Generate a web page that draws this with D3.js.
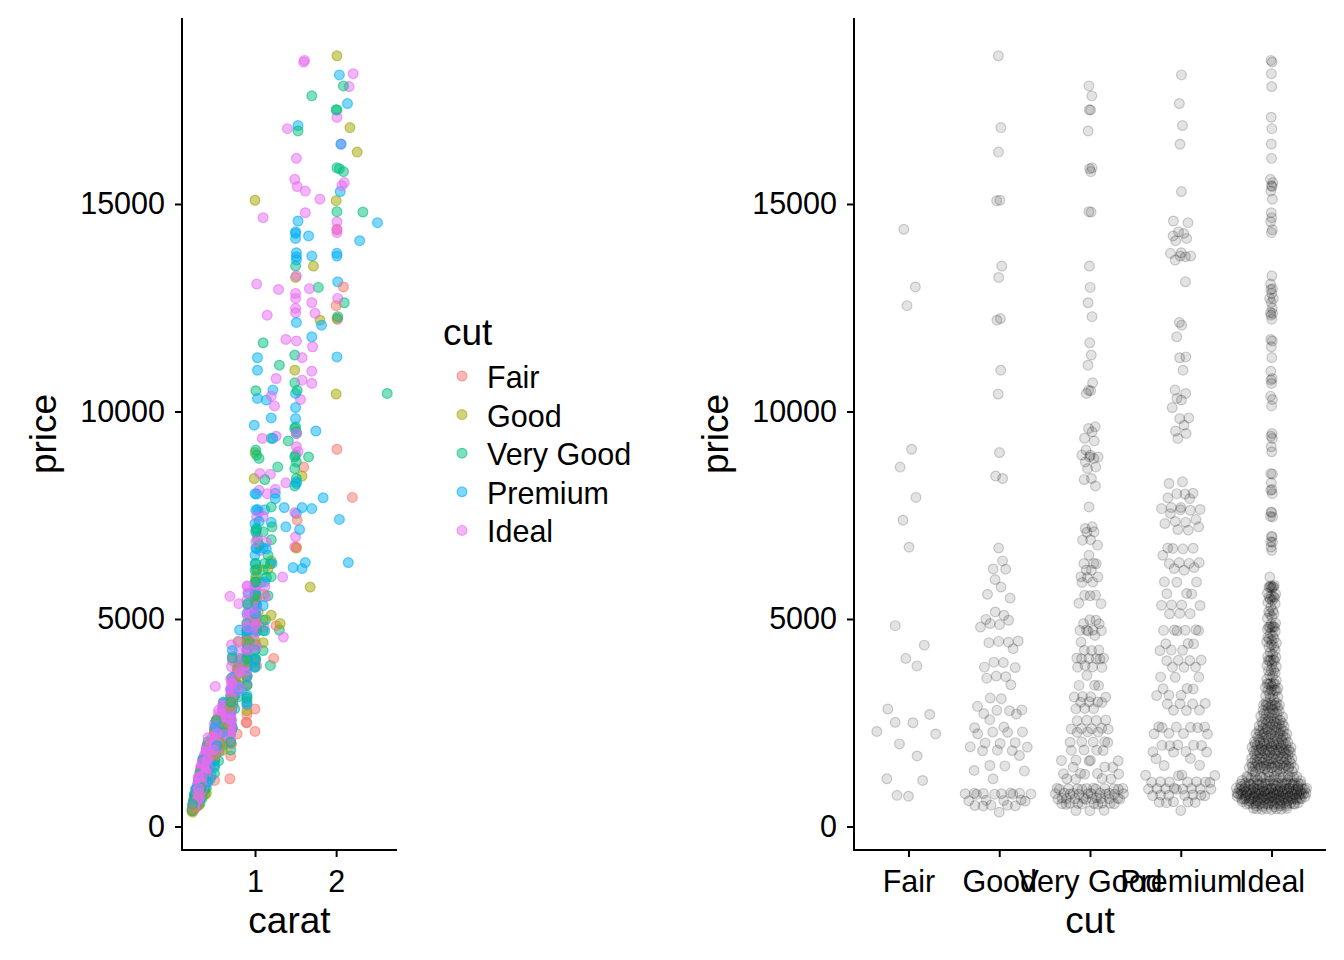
<!DOCTYPE html>
<html><head><meta charset="utf-8">
<script src="https://cdn.jsdelivr.net/npm/d3@7"></script>
<style>
html,body{margin:0;padding:0;background:#fff;}
svg{display:block;font-family:"Liberation Sans",Arial,Helvetica,sans-serif;}
</style></head>
<body>
<svg id="chart" width="1344" height="960"></svg>
<script>
// ---------------- DATA ----------------
const cuts = ["Fair", "Good", "Very Good", "Premium", "Ideal"];
const cutColors = ["#F8766D", "#A3A500", "#00BF7D", "#00B0F6", "#E76BF3"];
const priceTicks = [0, 5000, 10000, 15000];
const caratTicks = [1, 2];

// [carat, price]
const fairPts = [[2.01,14390],[2.09,13000],[2.0,12550],[2.01,9090],[1.6,8660],[2.2,7930],[1.52,7380],[1.51,6730],[1.26,4840],[1.01,4370],[1.23,4050],[1.02,3870],[1.0,2830],[0.9,2700],[0.89,2510],[0.9,2500],[1.0,2290],[0.78,2230],[0.71,1990],[0.7,1700],[0.69,1150],[0.5,1110],[0.33,750],[0.31,730]];

const goodPts = [[2.01,18570],[2.17,16840],[2.26,16250],[1.0,15090],[2.0,15080],[1.72,13505],[1.5,13230],[1.8,12200],[2.01,12240],[1.49,10995],[2.0,10420],[1.0,9010],[1.58,8445],[0.99,8385],[1.51,6710],[1.2,6400],[1.02,6205],[1.16,6200],[1.01,5950],[1.68,5770],[1.11,5595],[1.0,5505],[1.04,5170],[1.2,5090],[1.01,4990],[1.1,4970],[1.31,4890],[1.0,4865],[0.91,4806],[0.79,4460],[1.0,4470],[0.91,4440],[1.1,4430],[0.9,4285],[0.9,3960],[1.0,3950],[0.9,3840],[0.78,3830],[0.9,3625],[0.81,3610],[0.71,3575],[0.9,3415],[0.72,3095],[0.9,3080],[0.7,2895],[0.7,2800],[0.61,2810],[0.9,2790],[0.7,2720],[0.62,2710],[0.53,2575],[0.71,2395],[0.6,2380],[0.7,2275],[0.54,2270],[0.5,2280],[0.53,2235],[0.57,2010],[0.45,2020],[0.62,2000],[0.52,1915],[0.42,1920],[0.5,1830],[0.6,1840],[0.47,1825],[0.5,1710],[0.42,1470],[0.36,1460],[0.41,1350],[0.33,1340],[0.42,1150],[0.35,790],[0.28,800],[0.31,780],[0.4,795],[0.3,785],[0.34,790],[0.27,775],[0.3,800],[0.36,805],[0.33,780],[0.3,625],[0.31,630],[0.26,620],[0.3,610],[0.24,640],[0.3,505],[0.26,510],[0.27,500],[0.23,495],[0.3,515],[0.23,345]];

const veryGoodPts = [[2.09,17845],[1.7,17605],[2.01,17265],[2.0,17270],[1.53,16760],[2.01,15870],[2.09,15780],[2.04,15850],[2.01,14815],[2.33,14805],[1.5,13505],[1.78,12990],[2.1,12620],[2.02,12285],[1.1,11655],[1.49,11360],[1.3,11115],[1.49,10690],[1.01,10500],[1.52,10510],[2.63,10435],[1.49,9590],[1.5,9630],[1.41,9290],[1.51,9510],[1.2,9355],[1.01,9070],[1.49,8905],[1.51,8785],[1.66,8905],[1.49,8625],[1.28,8665],[1.12,8360],[1.49,8205],[1.02,8950],[1.05,8870],[1.5,8950],[1.51,8385],[1.2,7700],[1.02,7180],[1.21,7220],[1.1,7100],[1.01,7090],[1.03,6900],[1.2,6910],[1.05,6780],[1.16,6535],[1.01,6335],[1.12,6340],[1.19,6330],[1.0,6175],[1.1,6180],[1.01,6010],[1.14,6000],[1.2,6020],[1.01,5890],[1.08,5880],[1.01,5570],[1.0,5575],[1.16,5560],[0.91,5370],[1.01,5380],[1.0,4970],[1.13,4980],[0.9,4885],[1.01,4890],[0.9,4725],[1.0,4730],[1.1,4720],[1.02,4710],[1.3,4735],[0.9,4605],[0.93,4445],[0.9,4245],[1.0,4250],[1.1,4240],[0.9,4045],[0.81,4050],[1.0,4040],[0.9,4055],[1.01,4035],[0.72,4060],[1.19,3880],[0.9,3840],[1.0,3845],[0.81,3835],[0.9,3640],[0.8,3400],[0.76,3405],[0.9,3395],[0.71,3120],[0.73,3125],[0.9,3115],[0.8,3130],[0.7,2995],[0.61,3000],[0.72,2990],[0.9,3005],[0.7,2840],[0.6,2845],[0.75,2835],[0.7,2555],[0.52,2550],[0.7,2560],[0.71,2565],[0.6,2355],[0.7,2350],[0.5,2360],[0.62,2345],[0.72,2365],[0.6,2275],[0.5,2270],[0.7,2280],[0.51,2035],[0.56,2040],[0.7,2030],[0.42,2045],[0.57,2025],[0.5,1835],[0.4,1840],[0.52,1830],[0.7,1845],[0.5,1590],[0.37,1595],[0.5,1585],[0.42,1600],[0.55,1580],[0.41,1430],[0.34,1435],[0.5,1425],[0.4,1270],[0.32,1275],[0.41,1265],[0.5,1280],[0.36,1260],[0.31,1150],[0.37,1155],[0.45,1145],[0.35,1140],[0.33,910],[0.28,905],[0.34,915],[0.31,900],[0.4,920],[0.33,895],[0.3,912],[0.31,908],[0.36,918],[0.27,902],[0.34,925],[0.38,898],[0.31,790],[0.27,785],[0.32,795],[0.35,800],[0.3,780],[0.33,792],[0.26,788],[0.3,798],[0.38,783],[0.34,805],[0.3,775],[0.31,802],[0.3,670],[0.25,665],[0.31,675],[0.33,680],[0.29,660],[0.27,672],[0.31,668],[0.27,678],[0.3,655],[0.35,685],[0.28,662],[0.3,690],[0.28,550],[0.3,545],[0.24,555],[0.27,560],[0.3,540],[0.32,552],[0.26,548],[0.3,565],[0.23,535],[0.25,558],[0.23,385],[0.22,390],[0.23,380]];

const premiumPts = [[2.04,18110],[2.14,17420],[1.53,16890],[2.06,16440],[2.05,15300],[1.53,14590],[2.51,14550],[1.5,14330],[1.66,14230],[1.5,14290],[1.5,14170],[2.29,14115],[1.51,13825],[1.51,13730],[1.51,13650],[1.7,13745],[2.01,13810],[2.01,13745],[2.02,13125],[1.51,12145],[1.82,12080],[1.7,11800],[1.03,11295],[2.01,11315],[1.03,10995],[1.03,10315],[1.14,10275],[1.22,10515],[1.5,10435],[1.5,10095],[1.5,9830],[1.2,9845],[0.99,9670],[1.22,9350],[1.75,9530],[1.51,9470],[1.51,8305],[1.51,8265],[1.0,8020],[1.25,8030],[1.02,8010],[1.84,7920],[1.25,7900],[1.03,7640],[1.36,7685],[1.58,7685],[1.7,7660],[1.51,7540],[1.01,7620],[1.12,7630],[2.04,7400],[1.0,7300],[1.2,7330],[1.05,7350],[1.38,7220],[1.55,7155],[1.01,7140],[1.02,6700],[1.14,6690],[1.1,6710],[1.01,6705],[1.0,6535],[2.15,6360],[1.62,6360],[1.0,6335],[1.21,6340],[1.47,6240],[1.58,6215],[1.02,6175],[1.01,5890],[1.0,5885],[1.12,5895],[1.01,5610],[1.0,5605],[0.92,5615],[1.01,5330],[1.1,5325],[1.02,5335],[0.91,5340],[1.0,5130],[1.01,5125],[0.9,5135],[1.0,4725],[1.01,4730],[0.9,4720],[0.81,4735],[1.12,4715],[0.93,4740],[0.9,4405],[1.0,4400],[0.91,4410],[0.9,4245],[0.72,4240],[1.0,4250],[0.9,4005],[0.91,4000],[0.82,4010],[1.0,3995],[0.9,3840],[0.8,3845],[1.0,3835],[0.9,3600],[0.76,3605],[0.72,3595],[0.73,3320],[0.8,3325],[0.71,3315],[0.7,3160],[0.9,3165],[0.75,3155],[0.7,2960],[0.61,2965],[0.73,2955],[0.9,2950],[0.7,2800],[0.62,2805],[0.71,2795],[0.6,2395],[0.51,2400],[0.61,2390],[0.7,2385],[0.55,2405],[0.72,2380],[0.52,2235],[0.56,2240],[0.7,2230],[0.6,2245],[0.5,1955],[0.41,1960],[0.52,1950],[0.6,1965],[0.53,1945],[0.5,1795],[0.41,1800],[0.47,1790],[0.56,1805],[0.46,1635],[0.36,1640],[0.41,1470],[0.5,1475],[0.4,1230],[0.33,1235],[0.46,1225],[0.39,1240],[0.35,1070],[0.31,1075],[0.34,1065],[0.4,1080],[0.35,1060],[0.3,1078],[0.42,1072],[0.32,910],[0.28,905],[0.31,915],[0.38,900],[0.32,920],[0.3,895],[0.33,912],[0.35,918],[0.27,903],[0.3,750],[0.26,755],[0.3,745],[0.33,760],[0.29,740],[0.31,748],[0.25,765],[0.28,585],[0.3,580],[0.24,590],[0.29,595],[0.26,575],[0.23,385]];

const idealPts = [[1.6,18420],[1.61,18460],[2.21,18140],[2.16,17830],[2.01,17090],[1.4,16815],[2.06,16445],[1.51,16100],[2.1,15515],[1.49,15595],[1.52,15420],[1.62,15310],[2.07,15440],[1.8,15115],[1.1,14670],[1.62,14790],[2.01,14570],[2.01,14380],[2.01,14310],[1.51,13270],[1.02,13070],[1.29,12940],[1.67,12960],[1.5,12845],[1.5,12725],[1.5,12485],[1.5,12380],[1.7,12625],[1.15,12320],[1.74,12365],[2.02,12725],[2.02,12220],[1.38,11735],[1.51,11700],[1.71,11560],[1.58,11300],[1.7,10970],[1.26,10795],[1.58,10755],[1.7,10675],[1.2,10370],[1.24,10135],[1.56,10290],[1.09,9350],[1.26,9405],[1.51,9470],[1.51,9150],[1.53,9030],[1.06,8505],[1.19,8490],[1.38,8280],[1.05,8100],[1.15,8020],[1.25,8120],[1.05,7580],[1.49,7565],[1.02,7460],[1.1,7470],[1.5,6980],[1.03,6990],[1.49,6735],[1.01,6860],[1.14,6850],[1.06,6655],[1.34,6010],[1.01,5770],[1.12,5775],[1.0,5765],[0.91,5780],[0.69,5545],[1.0,5530],[1.01,5520],[1.13,5535],[0.8,5370],[1.01,5290],[1.0,5130],[0.92,5125],[1.0,4805],[1.11,4810],[0.91,4800],[0.9,4815],[1.02,4795],[1.35,4565],[0.9,4525],[0.91,4520],[0.71,4380],[0.9,4325],[1.02,4330],[0.9,4005],[0.91,4010],[0.8,4000],[0.72,3995],[1.0,4015],[0.9,3760],[0.78,3765],[0.81,3755],[0.51,3375],[0.76,3440],[0.72,3445],[0.9,3435],[0.71,3450],[0.77,3430],[0.7,3280],[0.72,3285],[0.84,3275],[0.7,3290],[0.7,2920],[0.71,2925],[0.62,2915],[0.9,2930],[0.72,2910],[0.6,2935],[0.7,3050],[0.72,3100],[0.71,2990],[0.61,2720],[0.7,2725],[0.55,2715],[0.62,2730],[0.7,2740],[0.58,2600],[0.7,2610],[0.53,2590],[0.56,2475],[0.6,2480],[0.5,2470],[0.7,2485],[0.55,2465],[0.61,2490],[0.71,2455],[0.52,2350],[0.6,2340],[0.7,2360],[0.5,2330],[0.53,2235],[0.5,2240],[0.54,2230],[0.7,2245],[0.51,2225],[0.55,2250],[0.5,2220],[0.57,2238],[0.62,2215],[0.5,2100],[0.52,2110],[0.7,2090],[0.46,2120],[0.5,1995],[0.51,2000],[0.43,1990],[0.5,2005],[0.53,1985],[0.7,2010],[0.54,1980],[0.51,2015],[0.45,1975],[0.58,2020],[0.42,1900],[0.5,1910],[0.55,1895],[0.4,1905],[0.5,1835],[0.42,1840],[0.46,1830],[0.5,1845],[0.4,1825],[0.52,1850],[0.45,1820],[0.49,1838],[0.55,1855],[0.41,1815],[0.41,1740],[0.5,1750],[0.43,1730],[0.38,1745],[0.52,1760],[0.42,1635],[0.38,1640],[0.41,1630],[0.44,1645],[0.36,1625],[0.5,1650],[0.4,1620],[0.45,1638],[0.39,1655],[0.42,1615],[0.4,1530],[0.36,1540],[0.42,1525],[0.35,1545],[0.41,1520],[0.4,1430],[0.35,1435],[0.4,1425],[0.33,1440],[0.42,1420],[0.36,1445],[0.38,1415],[0.41,1450],[0.34,1410],[0.39,1438],[0.45,1422],[0.37,1455],[0.35,1320],[0.33,1330],[0.4,1310],[0.36,1340],[0.32,1315],[0.38,1325],[0.36,1190],[0.31,1195],[0.35,1185],[0.38,1200],[0.32,1180],[0.4,1205],[0.33,1175],[0.36,1210],[0.38,1192],[0.3,1188],[0.34,1198],[0.37,1183],[0.42,1215],[0.31,1170],[0.35,1208],[0.32,1178],[0.33,1110],[0.31,1105],[0.35,1115],[0.3,1120],[0.36,1100],[0.32,1125],[0.33,1030],[0.3,1035],[0.32,1025],[0.36,1040],[0.31,1020],[0.35,1045],[0.3,1015],[0.33,1050],[0.38,1028],[0.31,1038],[0.32,1022],[0.35,1033],[0.29,1010],[0.34,1055],[0.32,1042],[0.3,1018],[0.34,1048],[0.31,1027],[0.37,1036],[0.3,1012],[0.31,960],[0.3,965],[0.32,955],[0.29,970],[0.33,950],[0.3,975],[0.32,910],[0.29,905],[0.32,915],[0.35,900],[0.31,920],[0.28,895],[0.3,912],[0.33,908],[0.31,918],[0.36,902],[0.31,925],[0.29,898],[0.3,930],[0.33,890],[0.31,914],[0.34,906],[0.3,922],[0.28,897],[0.33,916],[0.32,928],[0.31,893],[0.3,909],[0.35,919],[0.31,903],[0.33,926],[0.3,850],[0.29,855],[0.31,845],[0.3,860],[0.28,840],[0.32,865],[0.3,848],[0.31,858],[0.3,790],[0.31,795],[0.28,785],[0.31,800],[0.29,780],[0.33,805],[0.31,775],[0.3,810],[0.27,792],[0.3,788],[0.31,798],[0.34,783],[0.29,770],[0.31,808],[0.3,796],[0.28,778],[0.31,787],[0.29,803],[0.32,793],[0.31,772],[0.3,812],[0.27,786],[0.31,799],[0.3,781],[0.29,807],[0.33,791],[0.3,776],[0.3,802],[0.3,730],[0.28,735],[0.29,725],[0.3,740],[0.27,720],[0.31,745],[0.29,728],[0.3,738],[0.3,670],[0.31,675],[0.28,665],[0.29,680],[0.31,660],[0.3,685],[0.27,655],[0.3,690],[0.31,672],[0.26,668],[0.29,678],[0.31,663],[0.3,650],[0.28,688],[0.3,676],[0.31,658],[0.27,667],[0.3,683],[0.31,673],[0.28,652],[0.3,692],[0.29,666],[0.31,679],[0.3,661],[0.29,687],[0.28,610],[0.27,615],[0.3,605],[0.26,620],[0.28,600],[0.29,625],[0.3,550],[0.28,555],[0.27,545],[0.3,560],[0.29,540],[0.26,565],[0.28,535],[0.3,570],[0.27,552],[0.29,548],[0.26,558],[0.28,543],[0.3,530],[0.27,568],[0.29,556],[0.25,538],[0.28,562],[0.3,547],[0.26,490],[0.25,495],[0.27,485],[0.24,500],[0.26,480],[0.24,425],[0.23,430],[0.25,420],[0.24,435],[0.23,415],[0.26,440],[0.24,410],[0.25,428],
[0.9,5800],[1.0,5810],[1.01,5750],[0.91,5620],[1.0,5600],[1.02,5480],[0.9,5450],[1.01,5400],[0.92,5200],[1.0,5180],[0.91,5050],[1.0,5020],[0.9,4900],[1.01,4880],[0.93,4750],[0.9,4700],[1.0,4650],[0.9,4600],[0.91,4480],[0.8,4450],[0.9,4420],[0.91,4250],[0.8,4200],[0.9,4150],[0.72,4100],[0.9,4080],[0.8,3900],[0.9,3880],[0.71,3850],[0.81,3700],[0.76,3650],[0.9,3620],[0.7,3550],[0.73,3520],[0.8,3350],[0.7,3330],[0.71,3200],[0.72,3180],[0.7,3150],[0.74,3120],
[0.7,2980],[0.62,2960],[0.71,2870],[0.6,2850],[0.7,2820],[0.55,2800],[0.62,2780],[0.7,2680],[0.57,2660],[0.6,2640],[0.7,2560],[0.52,2550],[0.6,2530],[0.55,2520],[0.71,2420],[0.51,2410],[0.57,2400],[0.6,2390],[0.53,2310],[0.5,2300],[0.55,2290],[0.7,2280],[0.51,2180],[0.52,2170],[0.5,2160],[0.55,2150],[0.42,2140],[0.5,2060],[0.51,2050],[0.53,2040],[0.46,2030],[0.5,1960],[0.41,1950],[0.5,1940],[0.52,1930],[0.45,1880],[0.5,1870],[0.4,1860],[0.42,1790],[0.5,1780],[0.41,1775],[0.46,1770],[0.38,1710],[0.42,1700],[0.5,1690],[0.4,1680],[0.35,1600],[0.41,1590],[0.43,1580],[0.4,1570],[0.36,1560],[0.4,1500],[0.38,1490],[0.42,1480],[0.35,1470],[0.41,1465],[0.33,1400],[0.4,1395],[0.36,1390],[0.38,1380]];

const groups = [fairPts, goodPts, veryGoodPts, premiumPts, idealPts];

// ---------------- LAYOUT ----------------
const svg = d3.select("#chart");
const FONT_TICK = 30.5, FONT_TITLE = 37;
const PT_R = 4.9, PT_SW = 1.2;
const panelTop = 18, panelBottom = 850;
const L = {x0: 182, x1: 397};
const R = {x0: 854, x1: 1326};

// drawing order: a deterministic golden-ratio shuffle so the cuts interleave as in the original row order
const all = [];
groups.forEach((g, gi) => g.forEach((p, i) => all.push({cut: gi, carat: p[0], price: p[1], key: ((i + 1) * 0.6180339887 + gi * 0.137) % 1})));

function expand(ext, m) { const r = ext[1] - ext[0]; return [ext[0] - m * r, ext[1] + m * r]; }
const y = d3.scaleLinear().domain(expand(d3.extent(all, d => d.price), 0.05)).range([panelBottom, panelTop]);
const xC = d3.scaleLinear().domain(expand(d3.extent(all, d => d.carat), 0.05)).range([L.x0, L.x1]);
const xCut = d3.scalePoint().domain(cuts).range([R.x0, R.x1]).padding(0.6);

function styleAxis(g) {
  g.select(".domain").remove();
  g.selectAll(".tick line").attr("stroke", "#000").attr("stroke-width", 2);
  g.selectAll(".tick text").attr("fill", "#000").attr("font-size", FONT_TICK)
    .attr("font-family", "Liberation Sans, Arial, sans-serif");
}
function axisLines(px) {
  svg.append("line").attr("x1", px.x0).attr("x2", px.x0).attr("y1", panelTop).attr("y2", panelBottom + 1)
    .attr("stroke", "#000").attr("stroke-width", 2);
  svg.append("line").attr("x1", px.x0 - 1).attr("x2", px.x1).attr("y1", panelBottom).attr("y2", panelBottom)
    .attr("stroke", "#000").attr("stroke-width", 2);
}

// ---------------- LEFT PANEL: scatter ----------------
const drawOrder = all.slice().sort((a, b) => a.key - b.key || a.cut - b.cut);
svg.append("g").selectAll("circle").data(drawOrder).join("circle")
  .attr("cx", d => xC(d.carat)).attr("cy", d => y(d.price)).attr("r", PT_R)
  .attr("fill", d => cutColors[d.cut]).attr("fill-opacity", 0.5)
  .attr("stroke", d => cutColors[d.cut]).attr("stroke-opacity", 0.6).attr("stroke-width", PT_SW);

svg.append("g").attr("transform", `translate(${L.x0},0)`)
  .call(d3.axisLeft(y).tickValues(priceTicks).tickFormat(d3.format("d")).tickSize(7).tickPadding(10)).call(styleAxis);
svg.append("g").attr("transform", `translate(0,${panelBottom})`)
  .call(d3.axisBottom(xC).tickValues(caratTicks).tickFormat(d3.format("d")).tickSize(7).tickPadding(13)).call(styleAxis);
axisLines(L);

svg.append("text").attr("x", (L.x0 + L.x1) / 2).attr("y", 933).attr("text-anchor", "middle")
  .attr("font-size", FONT_TITLE).text("carat");
svg.append("text").attr("transform", `translate(56,${(panelTop + panelBottom) / 2}) rotate(-90)`)
  .attr("text-anchor", "middle").attr("font-size", FONT_TITLE).text("price");

// legend
const lg = svg.append("g");
lg.append("text").attr("x", 443).attr("y", 345).attr("font-size", FONT_TITLE).text("cut");
cuts.forEach((c, i) => {
  const cy = 376 + i * 38.6;
  lg.append("circle").attr("cx", 462).attr("cy", cy).attr("r", PT_R)
    .attr("fill", cutColors[i]).attr("fill-opacity", 0.5)
    .attr("stroke", cutColors[i]).attr("stroke-opacity", 0.6).attr("stroke-width", PT_SW);
  lg.append("text").attr("x", 487).attr("y", cy + 12).attr("font-size", FONT_TICK).text(c);
});

// ---------------- RIGHT PANEL: quasirandom ----------------
function vanDerCorput(n) {
  const out = [];
  for (let i = 1; i <= n; i++) {
    let v = 0, denom = 1, k = i;
    while (k > 0) { denom *= 2; v += (k % 2) / denom; k = Math.floor(k / 2); }
    out.push(v);
  }
  return out;
}
function nrd0(v) {
  const s = v.slice().sort((a, b) => a - b);
  const sd = d3.deviation(s);
  const iqr = d3.quantileSorted(s, 0.75) - d3.quantileSorted(s, 0.25);
  let lo = Math.min(sd, iqr / 1.34);
  if (!(lo > 0)) lo = sd || Math.abs(s[0]) || 1;
  return 0.9 * lo * Math.pow(s.length, -0.2);
}
const swarm = [];
groups.forEach((g, gi) => {
  const prices = g.map(p => p[1]);
  const n = prices.length;
  const bw = 0.5 * nrd0(prices);
  const dens = t => d3.sum(prices, v => Math.exp(-0.5 * ((t - v) / bw) ** 2));
  const [mn, mx] = d3.extent(prices);
  let dmax = 0;
  for (let k = 0; k <= 600; k++) dmax = Math.max(dmax, dens(mn - 3 * bw + (mx - mn + 6 * bw) * k / 600));
  const idx = d3.range(n).sort((a, b) => prices[a] - prices[b] || a - b);
  const vdc = vanDerCorput(n);
  const step = xCut.step();
  idx.forEach((pi, r) => {
    const off = (vdc[r] - 0.5) * 2 * (dens(prices[pi]) / dmax) * 0.4 * step;
    swarm.push({cut: gi, price: prices[pi], off});
  });
});
svg.append("g").selectAll("circle").data(swarm).join("circle")
  .attr("cx", d => xCut(cuts[d.cut]) + d.off).attr("cy", d => y(d.price)).attr("r", PT_R)
  .attr("fill", "#000").attr("fill-opacity", 0.11)
  .attr("stroke", "#000").attr("stroke-opacity", 0.18).attr("stroke-width", PT_SW);

svg.append("g").attr("transform", `translate(${R.x0},0)`)
  .call(d3.axisLeft(y).tickValues(priceTicks).tickFormat(d3.format("d")).tickSize(7).tickPadding(10)).call(styleAxis);
svg.append("g").attr("transform", `translate(0,${panelBottom})`)
  .call(d3.axisBottom(xCut).tickSize(7).tickPadding(13)).call(styleAxis);
axisLines(R);

svg.append("text").attr("x", (R.x0 + R.x1) / 2).attr("y", 933).attr("text-anchor", "middle")
  .attr("font-size", FONT_TITLE).text("cut");
svg.append("text").attr("transform", `translate(728,${(panelTop + panelBottom) / 2}) rotate(-90)`)
  .attr("text-anchor", "middle").attr("font-size", FONT_TITLE).text("price");
</script>
</body></html>
